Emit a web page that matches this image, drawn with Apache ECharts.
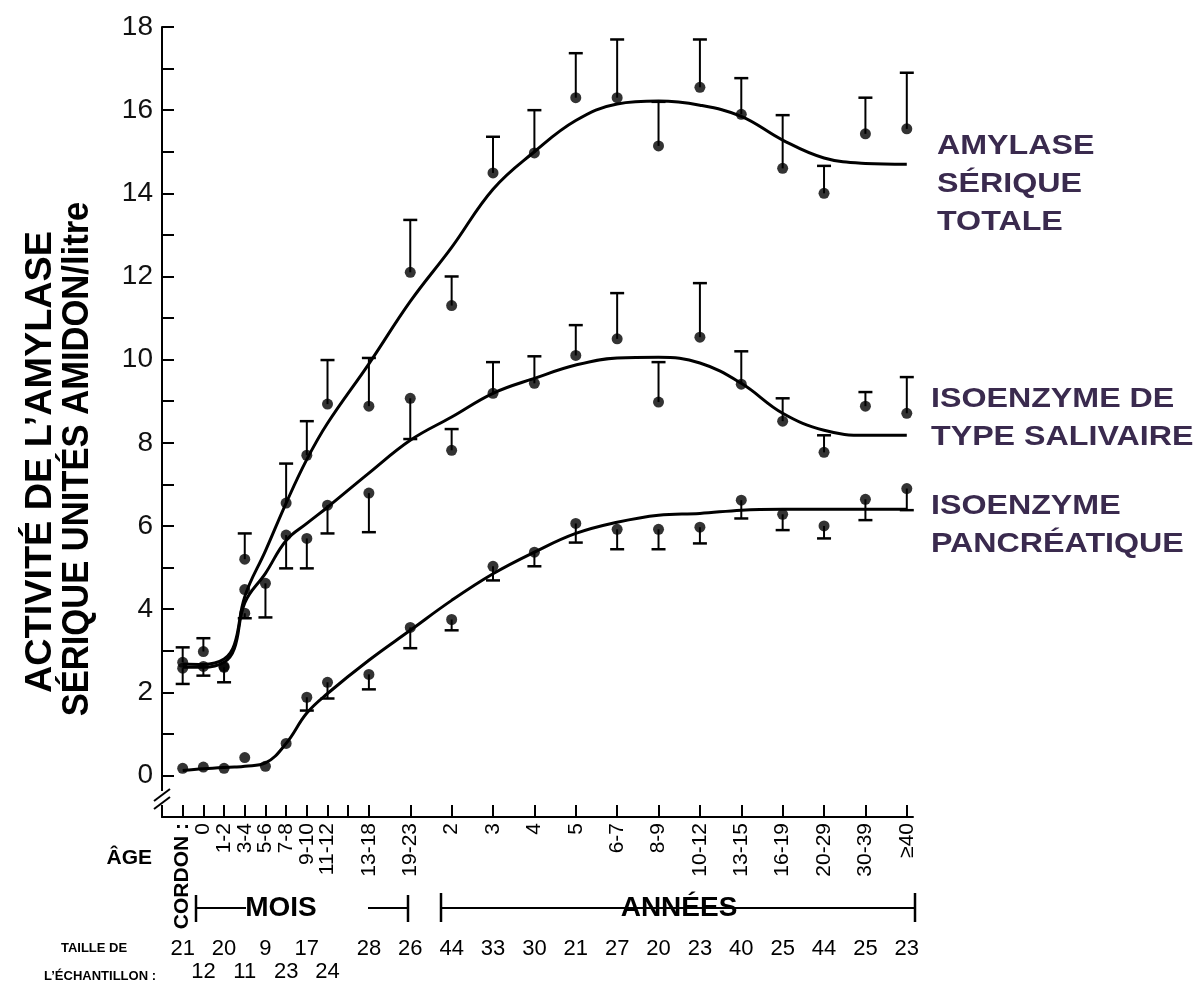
<!DOCTYPE html>
<html>
<head>
<meta charset="utf-8">
<script src="https://cdn.jsdelivr.net/npm/echarts@6/dist/echarts.min.js"></script>
<style>
html, body { margin: 0; padding: 0; background: #fff; }
#chart { width: 1194px; height: 987px; }
</style>
</head>
<body>
<div id="chart"></div>
<script>
// age groups on the x axis, their place on the (uneven) age scale, sample sizes
var ages = ['CORDON :', '0', '1-2', '3-4', '5-6', '7-8', '9-10', '11-12', '13-18', '19-23',
    '2', '3', '4', '5', '6-7', '8-9', '10-12', '13-15', '16-19', '20-29', '30-39', '≥40'];
var agePos = [0, 1, 2, 3, 4, 5, 6, 7, 9, 11, 13, 15, 17, 19, 21, 23, 25, 27, 29, 31, 33, 35];
var extraTicks = [8];
var sampleSize = [21, 12, 20, 11, 9, 23, 17, 24, 28, 26, 44, 33, 30, 21, 27, 20, 23, 40, 25, 44, 25, 23];

// amylase sérique totale : moyenne et bout de la barre d'erreur
var totalAge = ['CORDON :', '0', '1-2', '3-4', '7-8', '9-10', '11-12', '13-18', '19-23', '2', '3', '4',
    '5', '6-7', '8-9', '10-12', '13-15', '16-19', '20-29', '30-39', '≥40'];
var totalVal = [2.72, 2.98, 2.62, 5.2, 6.55, 7.7, 8.93, 8.88, 12.1, 11.3, 14.49, 14.97,
    16.3, 16.3, 15.14, 16.55, 15.9, 14.6, 14.0, 15.43, 15.55];
var totalErr = [3.08, 3.3, 2.62, 5.82, 7.5, 8.52, 9.99, 10.04, 13.36, 12.0, 15.36, 16.0,
    17.37, 17.7, 16.2, 17.7, 16.77, 15.88, 14.66, 16.3, 16.9];

// isoenzyme de type salivaire
var salAge = ['CORDON :', '0', '1-2', '3-4', '3-4', '5-6', '7-8', '9-10', '11-12', '13-18', '19-23', '2', '3', '4',
    '5', '6-7', '8-9', '10-12', '13-15', '16-19', '20-29', '30-39', '≥40'];
var salVal = [2.58, 2.62, 2.6, 4.47, 3.9, 4.62, 5.78, 5.7, 6.5, 6.79, 9.07, 7.82, 9.19, 9.43,
    10.1, 10.5, 8.98, 10.54, 9.41, 8.52, 7.77, 8.88, 8.71];
var salErr = [2.2, 2.4, 2.24, 4.47, 3.78, 3.8, 4.98, 4.98, 5.82, 5.85, 8.09, 8.33, 9.94, 10.08,
    10.83, 11.6, 9.94, 11.84, 10.2, 9.07, 8.18, 9.22, 9.58];

// isoenzyme pancréatique
var panAge = ages;
var panVal = [0.17, 0.2, 0.17, 0.43, 0.22, 0.77, 1.88, 2.24, 2.43, 3.56, 3.75, 5.03, 5.37,
    6.06, 5.92, 5.92, 5.97, 6.62, 6.28, 6.0, 6.64, 6.9];
var panErr = [0.17, 0.2, 0.17, 0.43, 0.22, 0.77, 1.56, 1.85, 2.07, 3.06, 3.49, 4.69, 5.03,
    5.6, 5.44, 5.44, 5.58, 6.18, 5.9, 5.7, 6.14, 6.38];

// fitted curves
var curvePos = [0, 1, 2, 2.5, 3, 4, 5, 6, 7, 9, 11, 13, 15, 17, 19, 21, 23, 25, 27, 29, 31, 33, 35];
var totalCurve = [2.68, 2.67, 2.8, 3.15, 4.3, 5.4, 6.55, 7.6, 8.47, 9.9, 11.4, 12.7, 14.1, 15.0,
    15.75, 16.15, 16.22, 16.12, 15.85, 15.28, 14.85, 14.72, 14.7];
var salCurve = [2.6, 2.6, 2.72, 3.05, 4.15, 4.86, 5.65, 6.06, 6.45, 7.27, 8.06, 8.62, 9.19, 9.55,
    9.87, 10.04, 10.06, 9.92, 9.43, 8.71, 8.3, 8.18, 8.18];
var panCurve = [0.12, 0.16, 0.19, 0.2, 0.22, 0.3, 0.77, 1.5, 1.97, 2.77, 3.49, 4.21, 4.85, 5.37,
    5.82, 6.09, 6.26, 6.3, 6.38, 6.4, 6.4, 6.4, 6.4];

function posOf(age) {
    return agePos[ages.indexOf(age)];
}

function points(ageList, vals, errs) {
    return ageList.map(function (a, i) {
        return [posOf(a), vals[i], errs[i]];
    });
}

function curve(vals) {
    return curvePos.map(function (p, i) {
        return [p, vals[i]];
    });
}

// les effectifs des mois alternent sur deux rangées
function lowRow(v) {
    return v < 8 && v % 2 === 1;
}

function renderBar(params, api) {
    var p = api.coord([api.value(0), api.value(1)]);
    var e = api.coord([api.value(0), api.value(2)]);
    if (Math.abs(p[1] - e[1]) < 1) {
        return { type: 'group', children: [] };
    }
    return {
        type: 'group',
        children: [
            { type: 'line', shape: { x1: p[0], y1: p[1], x2: e[0], y2: e[1] }, style: { stroke: '#000', lineWidth: 2 } },
            { type: 'line', shape: { x1: e[0] - 7, y1: e[1], x2: e[0] + 7, y2: e[1] }, style: { stroke: '#000', lineWidth: 2.5 } }
        ]
    };
}

function barSeries(data) {
    return { type: 'custom', renderItem: renderBar, data: data, encode: { x: 0, y: 1 }, z: 2 };
}

function dotSeries(data) {
    return {
        type: 'scatter', data: data, symbol: 'circle', symbolSize: 11,
        itemStyle: { color: '#000' }, encode: { x: 0, y: 1 }, z: 4
    };
}

function curveSeries(vals) {
    return {
        type: 'line', data: curve(vals), smooth: 0.4, showSymbol: false,
        lineStyle: { color: '#000', width: 3 }, z: 3
    };
}

var totalPts = points(totalAge, totalVal, totalErr);
var salPts = points(salAge, salVal, salErr);
var panPts = points(panAge, panVal, panErr);

var purple = '#3a2a4e';
var labelFont = 'Liberation Sans, Arial, sans-serif';

// extra bottom axes that only carry labels
function labelAxis(offset, values, label) {
    return {
        type: 'value', min: -1, max: 35.3, position: 'bottom', offset: offset,
        axisLine: { show: false }, axisTick: { show: false }, splitLine: { show: false },
        axisLabel: Object.assign({
            customValues: values, margin: 0,
            showMinLabel: true, showMaxLabel: true, hideOverlap: false,
            fontFamily: labelFont, color: '#000'
        }, label)
    };
}

// age labels are split over two axes (every other one) so that
// neighbouring labels never get dropped for overlapping
function ageAxis(parity) {
    var vals = agePos.filter(function (v, i) { return i % 2 === parity; });
    return labelAxis(0, vals, {
        rotate: 90, margin: 6, fontSize: 21,
        formatter: function (v) {
            var i = agePos.indexOf(v);
            if (i < 0) return '';
            return i === 0 ? '{c|' + ages[i] + '}' : ages[i];
        },
        rich: { c: { fontFamily: labelFont, fontWeight: 'bold', fontSize: 21, color: '#000' } }
    });
}

function sampleAxis(offset, low) {
    return labelAxis(offset, agePos.filter(function (v) { return lowRow(v) === low; }), {
        fontSize: 22,
        formatter: function (v) {
            var i = agePos.indexOf(v);
            return i < 0 ? '' : String(sampleSize[i]);
        }
    });
}

function sideText(x, y, txt) {
    return {
        type: 'text', x: x, y: y, scaleX: 1.15,
        style: { text: txt, font: 'bold 28px ' + labelFont, fill: purple, lineHeight: 38 }
    };
}

function titleLine(x, y, txt, sx) {
    return {
        type: 'text', x: x, y: y, rotation: Math.PI / 2, scaleX: sx,
        style: {
            text: txt, font: 'bold 36px ' + labelFont,
            fill: '#000', align: 'center', verticalAlign: 'middle'
        }
    };
}

var myChart = echarts.init(document.getElementById('chart'));

var option = {
    backgroundColor: '#fff',
    animation: false,
    grid: { left: 162, top: 27, right: 281, bottom: 170 },
    xAxis: [{
        type: 'value', min: -1, max: 35.3,
        axisLine: { onZero: false, lineStyle: { color: '#000', width: 2 } },
        axisTick: { inside: true, length: 12, lineStyle: { color: '#000', width: 2 },
            customValues: agePos.concat(extraTicks) },
        splitLine: { show: false },
        axisLabel: { show: false }
    },
    ageAxis(0), ageAxis(1),
    sampleAxis(121, false), sampleAxis(144, true)],
    yAxis: {
        type: 'value', min: -1, max: 18, interval: 1,
        axisLine: { onZero: false, lineStyle: { color: '#000', width: 2 } },
        axisTick: { inside: true, length: 12, lineStyle: { color: '#000', width: 2 } },
        splitLine: { show: false },
        axisLabel: {
            margin: 9, fontFamily: labelFont, fontSize: 28, color: '#111',
            formatter: function (v) { return (v >= 0 && v % 2 === 0) ? String(v) : ''; }
        }
    },
    series: [
        curveSeries(totalCurve), curveSeries(salCurve), curveSeries(panCurve),
        barSeries(totalPts), barSeries(salPts), barSeries(panPts),
        dotSeries(totalPts), dotSeries(salPts), dotSeries(panPts)
    ],
    graphic: [
        // axis break on the y axis
        { type: 'rect', shape: { x: 155, y: 791, width: 14, height: 14 }, style: { fill: '#fff' }, z: 10 },
        { type: 'line', shape: { x1: 154, y1: 801, x2: 170, y2: 789 }, style: { stroke: '#000', lineWidth: 2 }, z: 11 },
        { type: 'line', shape: { x1: 154, y1: 809, x2: 170, y2: 797 }, style: { stroke: '#000', lineWidth: 2 }, z: 11 },
        // y axis title
        titleLine(41, 462, 'ACTIVITÉ DE L\u2019AMYLASE', 1.05),
        titleLine(78, 459, 'SÉRIQUE UNITÉS AMIDON/litre', 0.96),
        sideText(937, 127, 'AMYLASE\nSÉRIQUE\nTOTALE'),
        sideText(931, 380, 'ISOENZYME DE\nTYPE SALIVAIRE'),
        sideText(931, 487, 'ISOENZYME\nPANCRÉATIQUE'),
        {
            type: 'text', x: 152, y: 858,
            style: { text: 'ÂGE', font: 'bold 21px ' + labelFont, fill: '#000', align: 'right', verticalAlign: 'middle' }
        },
        {
            type: 'text', x: 94, y: 948,
            style: { text: 'TAILLE DE', font: 'bold 13px ' + labelFont, fill: '#000', align: 'center', verticalAlign: 'middle' }
        },
        {
            type: 'text', x: 100, y: 976,
            style: { text: 'L\u2019ÉCHANTILLON :', font: 'bold 13px ' + labelFont, fill: '#000', align: 'center', verticalAlign: 'middle' }
        },
        // MOIS / ANNÉES brackets
        { type: 'line', shape: { x1: 196, y1: 895, x2: 196, y2: 922 }, style: { stroke: '#000', lineWidth: 2.5 } },
        { type: 'line', shape: { x1: 196, y1: 908, x2: 246, y2: 908 }, style: { stroke: '#000', lineWidth: 2 } },
        { type: 'line', shape: { x1: 368, y1: 908, x2: 408, y2: 908 }, style: { stroke: '#000', lineWidth: 2 } },
        { type: 'line', shape: { x1: 408, y1: 895, x2: 408, y2: 922 }, style: { stroke: '#000', lineWidth: 2.5 } },
        { type: 'line', shape: { x1: 441, y1: 893, x2: 441, y2: 922 }, style: { stroke: '#000', lineWidth: 2.5 } },
        { type: 'line', shape: { x1: 441, y1: 908, x2: 915, y2: 908 }, style: { stroke: '#000', lineWidth: 2 } },
        { type: 'line', shape: { x1: 915, y1: 893, x2: 915, y2: 922 }, style: { stroke: '#000', lineWidth: 2.5 } },
        {
            type: 'text', x: 281, y: 908, z: 5,
            style: { text: 'MOIS', font: 'bold 28px ' + labelFont, fill: '#000', align: 'center', verticalAlign: 'middle' }
        },
        {
            type: 'text', x: 679, y: 908, z: 5,
            style: { text: 'ANNÉES', font: 'bold 28px ' + labelFont, fill: '#000', align: 'center', verticalAlign: 'middle' }
        }
    ]
};

myChart.setOption(option);
</script>
</body>
</html>
